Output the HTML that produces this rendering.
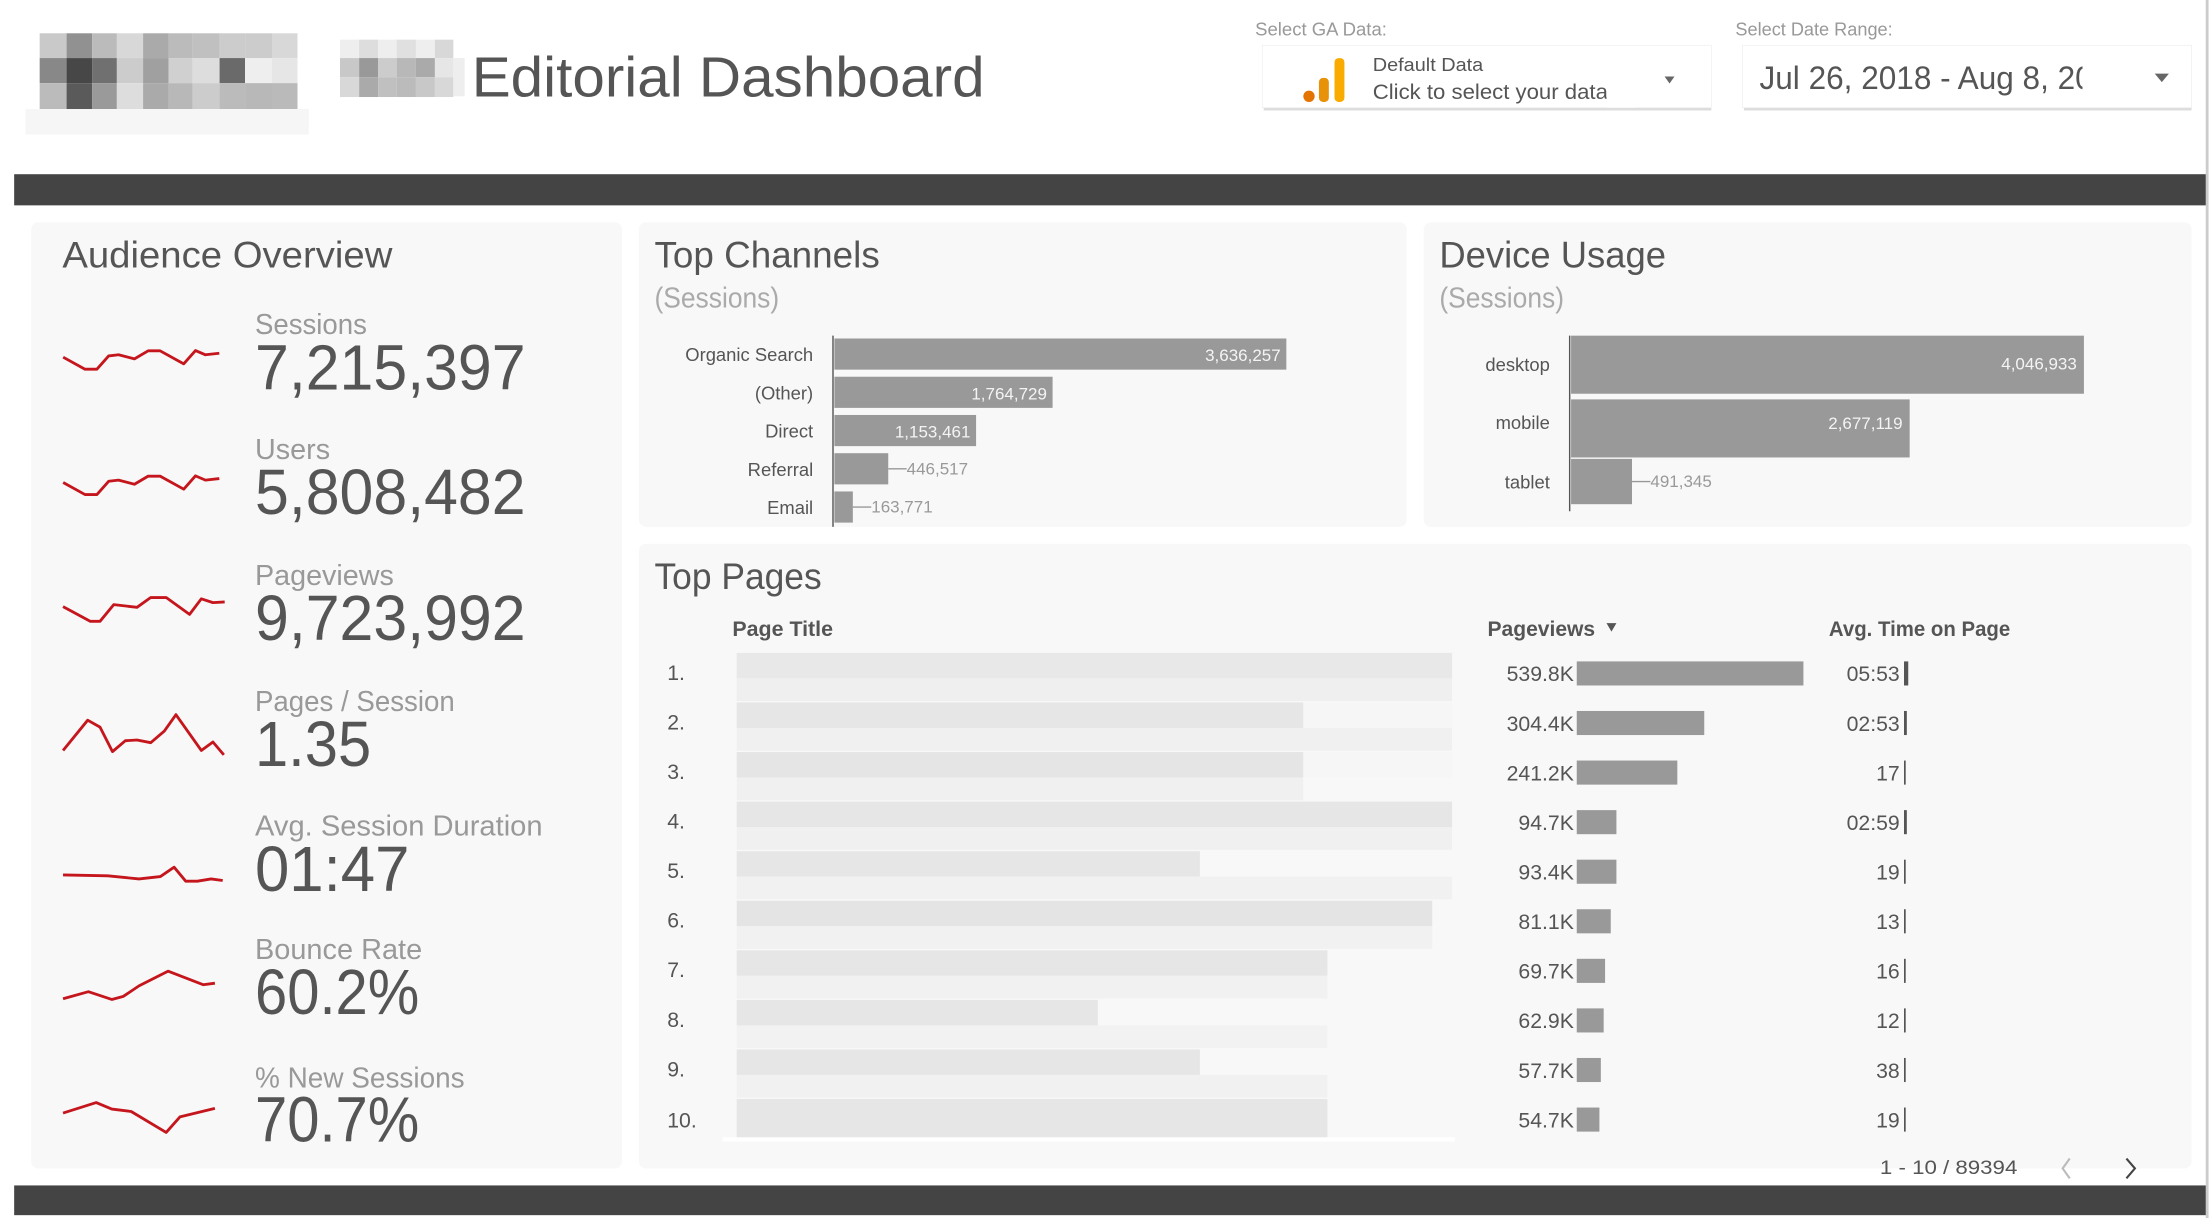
<!DOCTYPE html>
<html><head><meta charset="utf-8"><style>
html,body{margin:0;padding:0;background:#fff;width:2210px;height:1218px;overflow:hidden}
svg{display:block}
text{font-family:"Liberation Sans",sans-serif}
</style></head><body>
<svg width="2210" height="1218" viewBox="0 0 1560 860" preserveAspectRatio="none" xmlns="http://www.w3.org/2000/svg">
<rect x="0" y="0" width="1560" height="860" fill="#fff"/>
<rect x="1557" y="0" width="2" height="860" fill="#ccc"/>
<!-- logo 1 -->
<g>
<rect x="28" y="23.5" width="19" height="17.5" fill="#c9c9c9"/><rect x="47" y="23.5" width="18" height="17.5" fill="#919191"/><rect x="65" y="23.5" width="17.5" height="17.5" fill="#bbb"/><rect x="82.5" y="23.5" width="18.5" height="17.5" fill="#d8d8d8"/><rect x="101" y="23.5" width="18" height="17.5" fill="#aaa"/><rect x="119" y="23.5" width="17" height="17.5" fill="#bbb"/><rect x="136" y="23.5" width="19" height="17.5" fill="#c0c0c0"/><rect x="155" y="23.5" width="18" height="17.5" fill="#ccc"/><rect x="173" y="23.5" width="19" height="17.5" fill="#ccc"/><rect x="192" y="23.5" width="18" height="17.5" fill="#d8d8d8"/>
<rect x="28" y="41" width="19" height="17.7" fill="#888"/><rect x="47" y="41" width="18" height="17.7" fill="#474747"/><rect x="65" y="41" width="17.5" height="17.7" fill="#707070"/><rect x="82.5" y="41" width="18.5" height="17.7" fill="#ccc"/><rect x="101" y="41" width="18" height="17.7" fill="#a0a0a0"/><rect x="119" y="41" width="17" height="17.7" fill="#d0d0d0"/><rect x="136" y="41" width="19" height="17.7" fill="#ddd"/><rect x="155" y="41" width="18" height="17.7" fill="#6a6a6a"/><rect x="173" y="41" width="19" height="17.7" fill="#eee"/><rect x="192" y="41" width="18" height="17.7" fill="#e6e6e6"/>
<rect x="28" y="58.7" width="19" height="18.3" fill="#bbb"/><rect x="47" y="58.7" width="18" height="18.3" fill="#5a5a5a"/><rect x="65" y="58.7" width="17.5" height="18.3" fill="#9a9a9a"/><rect x="82.5" y="58.7" width="18.5" height="18.3" fill="#ddd"/><rect x="101" y="58.7" width="18" height="18.3" fill="#aaa"/><rect x="119" y="58.7" width="17" height="18.3" fill="#b8b8b8"/><rect x="136" y="58.7" width="19" height="18.3" fill="#ccc"/><rect x="155" y="58.7" width="18" height="18.3" fill="#bbb"/><rect x="173" y="58.7" width="19" height="18.3" fill="#b8b8b8"/><rect x="192" y="58.7" width="18" height="18.3" fill="#bababa"/>
<rect x="18" y="77" width="200" height="18" fill="#f6f6f6"/>
</g>
<!-- logo 2 -->
<g>
<rect x="240" y="28" width="13.5" height="13" fill="#eee"/><rect x="253.5" y="28" width="13.5" height="13" fill="#ddd"/><rect x="267" y="28" width="13" height="13" fill="#eee"/><rect x="280" y="28" width="13.6" height="13" fill="#e0e0e0"/><rect x="293.6" y="28" width="13.4" height="13" fill="#eee"/><rect x="307" y="28" width="13" height="13" fill="#d8d8d8"/>
<rect x="240" y="41" width="13.5" height="13.5" fill="#c8c8c8"/><rect x="253.5" y="41" width="13.5" height="13.5" fill="#999"/><rect x="267" y="41" width="13" height="13.5" fill="#ccc"/><rect x="280" y="41" width="13.6" height="13.5" fill="#b8b8b8"/><rect x="293.6" y="41" width="13.4" height="13.5" fill="#aaa"/><rect x="307" y="41" width="13" height="13.5" fill="#e6e6e6"/>
<rect x="240" y="54.5" width="13.5" height="14" fill="#d8d8d8"/><rect x="253.5" y="54.5" width="13.5" height="14" fill="#aaa"/><rect x="267" y="54.5" width="13" height="14" fill="#c0c0c0"/><rect x="280" y="54.5" width="13.6" height="14" fill="#bbb"/><rect x="293.6" y="54.5" width="13.4" height="14" fill="#c8c8c8"/><rect x="307" y="54.5" width="13" height="14" fill="#d8d8d8"/>
<rect x="320" y="41" width="8" height="27" fill="#eee"/>
</g>
<text x="333" y="68" font-size="40" fill="#555" textLength="362" lengthAdjust="spacingAndGlyphs">Editorial Dashboard</text>

<!-- selectors -->
<text x="886" y="25" font-size="13" fill="#999" textLength="93" lengthAdjust="spacingAndGlyphs">Select GA Data:</text>
<rect x="892" y="34" width="316" height="44" fill="#ddd"/>
<rect x="891" y="32" width="317" height="44" fill="#fff" stroke="#eee" stroke-width="0.5"/>
<circle cx="924" cy="68" r="4" fill="#e37400"/>
<rect x="931" y="55" width="7" height="17" rx="3" fill="#e8920a"/>
<rect x="942" y="41" width="7" height="31" rx="3" fill="#f9ab00"/>
<text x="969" y="50" font-size="13" fill="#555" textLength="78" lengthAdjust="spacingAndGlyphs">Default Data</text>
<text x="969" y="70" font-size="15" fill="#555" textLength="166" lengthAdjust="spacingAndGlyphs">Click to select your data</text>
<rect x="1134" y="56" width="20" height="20" fill="#fff"/>
<path d="M1175 54 L1182 54 L1178.5 59 Z" fill="#666"/>
<text x="1225" y="25" font-size="13" fill="#999" textLength="111" lengthAdjust="spacingAndGlyphs">Select Date Range:</text>
<rect x="1231" y="34" width="316" height="44" fill="#ddd"/>
<rect x="1230" y="32" width="317" height="44" fill="#fff" stroke="#eee" stroke-width="0.5"/>
<svg x="1230" y="32" width="240" height="44"><text x="12" y="31" font-size="23" fill="#555" textLength="260" lengthAdjust="spacingAndGlyphs">Jul 26, 2018 - Aug 8, 2018</text></svg>
<path d="M1521 52 L1531 52 L1526 58 Z" fill="#666"/>

<!-- bars -->
<rect x="10" y="123" width="1547" height="22" fill="#444"/>
<rect x="10" y="837" width="1547" height="21" fill="#444"/>

<!-- panels -->
<rect x="22" y="157" width="417" height="668" rx="5" fill="#f8f8f8"/>
<rect x="451" y="157" width="542" height="215" rx="5" fill="#f8f8f8"/>
<rect x="1005" y="157" width="542" height="215" rx="5" fill="#f8f8f8"/>
<rect x="451" y="384" width="1096" height="441" rx="5" fill="#f8f8f8"/>

<!-- audience -->
<text x="44" y="189" font-size="26" fill="#555" textLength="233" lengthAdjust="spacingAndGlyphs">Audience Overview</text>
<g fill="#999" font-size="20">
<text x="180" y="236" textLength="79" lengthAdjust="spacingAndGlyphs">Sessions</text>
<text x="180" y="324" textLength="53" lengthAdjust="spacingAndGlyphs">Users</text>
<text x="180" y="413" textLength="98" lengthAdjust="spacingAndGlyphs">Pageviews</text>
<text x="180" y="502" textLength="141" lengthAdjust="spacingAndGlyphs">Pages / Session</text>
<text x="180" y="590" textLength="203" lengthAdjust="spacingAndGlyphs">Avg. Session Duration</text>
<text x="180" y="677" textLength="118" lengthAdjust="spacingAndGlyphs">Bounce Rate</text>
<text x="180" y="768" textLength="148" lengthAdjust="spacingAndGlyphs">% New Sessions</text>
</g>
<g fill="#555" font-size="45">
<text x="180" y="275" textLength="191" lengthAdjust="spacingAndGlyphs">7,215,397</text>
<text x="180" y="363" textLength="191" lengthAdjust="spacingAndGlyphs">5,808,482</text>
<text x="180" y="452" textLength="191" lengthAdjust="spacingAndGlyphs">9,723,992</text>
<text x="180" y="541" textLength="82" lengthAdjust="spacingAndGlyphs">1.35</text>
<text x="180" y="629" textLength="109" lengthAdjust="spacingAndGlyphs">01:47</text>
<text x="180" y="716" textLength="116" lengthAdjust="spacingAndGlyphs">60.2%</text>
<text x="180" y="806" textLength="116" lengthAdjust="spacingAndGlyphs">70.7%</text>
</g>
<g fill="none" stroke="#c4161c" stroke-width="2" stroke-linejoin="round">
<polyline points="44.6,252.2 60,260.7 68.4,260.7 76.7,251.3 83.7,250.5 94.9,253.4 104.6,247.7 113,247.7 129.7,256.9 138,247.5 145,250.5 154.8,249.4"/>
<polyline points="44.6,340.7 60,349.2 68.4,349.2 76.7,339.8 83.7,339 94.9,341.9 104.6,336.2 113,336.2 129.7,345.4 138,336 145,339 154.8,337.9"/>
<polyline points="44.5,428.3 63.8,438.7 70.6,438.7 80.3,426.9 96.7,428.8 106.4,421.9 117.3,421.9 133.8,433.8 142.1,422.8 150.3,425.5 158.6,425"/>
<polyline points="44.5,529.9 61.9,508.5 70.6,513.4 79.4,530.7 88.5,523 96.7,522.5 106.4,524.4 116,516.2 124.2,504.6 142.1,529.9 150.3,523.9 158,533"/>
<polyline points="44.5,617.8 76.1,618.4 98.1,620.6 113.2,618.9 122.9,612.3 131.1,622.2 139.3,622.2 149,620.6 157.2,621.7"/>
<polyline points="44.5,705.2 62.4,700.2 78.9,705.7 87.1,703.5 98.1,696.1 118.7,685.7 143.4,695.3 151.7,694.2"/>
<polyline points="44.5,785.9 67.9,778.5 78.9,783.1 92.6,784.8 117.3,799.6 127,788.6 151.7,782.6"/>
</g>

<!-- top channels -->
<text x="462" y="189" font-size="26" fill="#555" textLength="159" lengthAdjust="spacingAndGlyphs">Top Channels</text>
<text x="462" y="217" font-size="20" fill="#aaa" textLength="88" lengthAdjust="spacingAndGlyphs">(Sessions)</text>
<line x1="588" y1="237" x2="588" y2="372" stroke="#555" stroke-width="1"/>
<g fill="#999">
<rect x="589" y="239" width="319" height="22"/>
<rect x="589" y="266" width="154" height="22"/>
<rect x="589" y="293" width="100" height="22"/>
<rect x="589" y="320" width="38" height="22"/>
<rect x="589" y="347" width="13" height="22"/>
</g>
<g font-size="13" fill="#555" text-anchor="end">
<text x="574" y="255">Organic Search</text>
<text x="574" y="282">(Other)</text>
<text x="574" y="309">Direct</text>
<text x="574" y="336">Referral</text>
<text x="574" y="363">Email</text>
</g>
<g font-size="12" fill="#f4f4f4" text-anchor="end">
<text x="904" y="255">3,636,257</text>
<text x="739" y="282">1,764,729</text>
<text x="685" y="309">1,153,461</text>
</g>
<g font-size="12" fill="#999">
<line x1="627" y1="331" x2="640" y2="331" stroke="#999"/>
<text x="640" y="335">446,517</text>
<line x1="602" y1="358" x2="615" y2="358" stroke="#999"/>
<text x="615" y="362">163,771</text>
</g>

<!-- device usage -->
<text x="1016" y="189" font-size="26" fill="#555" textLength="160" lengthAdjust="spacingAndGlyphs">Device Usage</text>
<text x="1016" y="217" font-size="20" fill="#aaa" textLength="88" lengthAdjust="spacingAndGlyphs">(Sessions)</text>
<line x1="1108" y1="237" x2="1108" y2="361" stroke="#555" stroke-width="1"/>
<g fill="#999">
<rect x="1109" y="237" width="362" height="41"/>
<rect x="1109" y="282" width="239" height="41"/>
<rect x="1109" y="324" width="43" height="32"/>
</g>
<g font-size="13" fill="#555" text-anchor="end">
<text x="1094" y="262">desktop</text>
<text x="1094" y="303">mobile</text>
<text x="1094" y="345">tablet</text>
</g>
<g font-size="12" fill="#f4f4f4" text-anchor="end">
<text x="1466" y="261">4,046,933</text>
<text x="1343" y="303">2,677,119</text>
</g>
<line x1="1152" y1="340" x2="1165" y2="340" stroke="#999"/>
<text x="1165" y="344" font-size="12" fill="#999">491,345</text>

<!-- top pages -->
<text x="462" y="416" font-size="26" fill="#555" textLength="118" lengthAdjust="spacingAndGlyphs">Top Pages</text>
<g font-size="15" fill="#555" font-weight="bold">
<text x="517" y="449" textLength="71" lengthAdjust="spacingAndGlyphs">Page Title</text>
<text x="1050" y="449" textLength="76" lengthAdjust="spacingAndGlyphs">Pageviews</text>
<text x="1291" y="449" textLength="128" lengthAdjust="spacingAndGlyphs">Avg. Time on Page</text>
</g>
<path d="M1134 440 L1141 440 L1137.5 446 Z" fill="#555"/>
<g>
<!-- blurred title blocks: upper darker, lower lighter -->
<rect x="520" y="461" width="505" height="18" fill="#e8e8e8"/><rect x="520" y="479" width="505" height="16" fill="#efefef"/>
<rect x="520" y="496" width="400" height="18" fill="#e6e6e6"/><rect x="920" y="496" width="105" height="18" fill="#f6f6f6"/><rect x="520" y="514" width="505" height="16" fill="#f0f0f0"/>
<rect x="520" y="531" width="400" height="18" fill="#e5e5e5"/><rect x="920" y="531" width="105" height="18" fill="#f6f6f6"/><rect x="520" y="549" width="400" height="16" fill="#f0f0f0"/>
<rect x="520" y="566" width="505" height="18" fill="#e6e6e6"/><rect x="520" y="584" width="505" height="16" fill="#f0f0f0"/>
<rect x="520" y="601" width="327" height="18" fill="#e6e6e6"/><rect x="520" y="619" width="505" height="16" fill="#f1f1f1"/>
<rect x="520" y="636" width="491" height="18" fill="#e4e4e4"/><rect x="520" y="654" width="491" height="16" fill="#f1f1f1"/>
<rect x="520" y="671" width="417" height="18" fill="#e6e6e6"/><rect x="520" y="689" width="417" height="16" fill="#f1f1f1"/>
<rect x="520" y="706" width="255" height="18" fill="#e6e6e6"/><rect x="520" y="724" width="417" height="16" fill="#f2f2f2"/>
<rect x="520" y="741" width="327" height="18" fill="#e6e6e6"/><rect x="520" y="759" width="417" height="16" fill="#f1f1f1"/>
<rect x="520" y="776" width="417" height="28" fill="#e6e6e6"/>
<rect x="510" y="803" width="517" height="3" fill="#fff"/>
</g>
<g font-size="15" fill="#555">
<text x="471" y="480">1.</text><text x="471" y="515">2.</text><text x="471" y="550">3.</text><text x="471" y="585">4.</text><text x="471" y="620">5.</text>
<text x="471" y="655">6.</text><text x="471" y="690">7.</text><text x="471" y="725">8.</text><text x="471" y="760">9.</text><text x="471" y="796">10.</text>
</g>
<g font-size="15" fill="#555" text-anchor="end">
<text x="1111" y="481">539.8K</text><text x="1111" y="516">304.4K</text><text x="1111" y="551">241.2K</text><text x="1111" y="586">94.7K</text><text x="1111" y="621">93.4K</text>
<text x="1111" y="656">81.1K</text><text x="1111" y="691">69.7K</text><text x="1111" y="726">62.9K</text><text x="1111" y="761">57.7K</text><text x="1111" y="796">54.7K</text>
<text x="1341" y="481">05:53</text><text x="1341" y="516">02:53</text><text x="1341" y="551">17</text><text x="1341" y="586">02:59</text><text x="1341" y="621">19</text>
<text x="1341" y="656">13</text><text x="1341" y="691">16</text><text x="1341" y="726">12</text><text x="1341" y="761">38</text><text x="1341" y="796">19</text>
</g>
<g fill="#999">
<rect x="1113" y="467" width="160" height="17"/>
<rect x="1113" y="502" width="90" height="17"/>
<rect x="1113" y="537" width="71" height="17"/>
<rect x="1113" y="572" width="28" height="17"/>
<rect x="1113" y="607" width="28" height="17"/>
<rect x="1113" y="642" width="24" height="17"/>
<rect x="1113" y="677" width="20" height="17"/>
<rect x="1113" y="712" width="19" height="17"/>
<rect x="1113" y="747" width="17" height="17"/>
<rect x="1113" y="782" width="16" height="17"/>
</g>
<g fill="#555">
<rect x="1344" y="467" width="3" height="17"/><rect x="1344" y="502" width="2" height="17"/><rect x="1344" y="537" width="1.2" height="17"/><rect x="1344" y="572" width="2" height="17"/><rect x="1344" y="607" width="1.2" height="17"/>
<rect x="1344" y="642" width="1.2" height="17"/><rect x="1344" y="677" width="1.2" height="17"/><rect x="1344" y="712" width="1.2" height="17"/><rect x="1344" y="747" width="1.2" height="17"/><rect x="1344" y="782" width="1.2" height="17"/>
</g>
<text x="1327" y="829" font-size="14" fill="#555" textLength="97" lengthAdjust="spacingAndGlyphs">1 - 10 / 89394</text>
<path d="M1461 818 L1456 825 L1461 832" fill="none" stroke="#bbb" stroke-width="1.5"/>
<path d="M1501 818 L1507 825 L1501 832" fill="none" stroke="#444" stroke-width="1.5"/>
</svg>
</body></html>
